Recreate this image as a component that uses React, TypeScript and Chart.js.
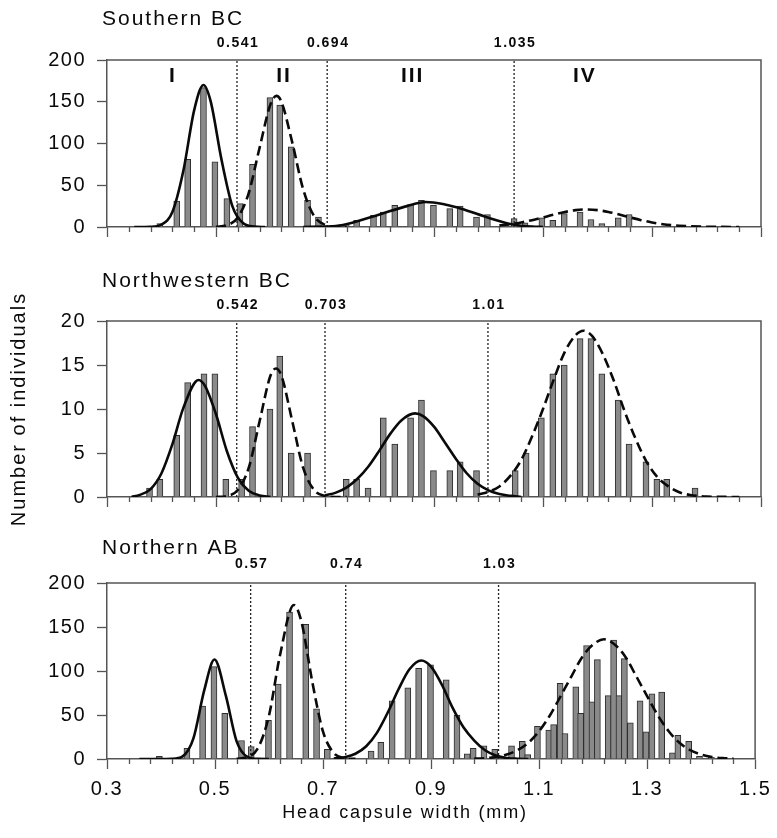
import React, { useEffect, useRef } from "react";
import { Chart, registerables } from "chart.js";

Chart.register(...registerables);

const FONT = "'Liberation Sans', Arial, Helvetica, sans-serif";
Chart.defaults.font.family = FONT;

// ---------- axis ticks ----------
const xMajorTicks = [0.3, 0.5, 0.7, 0.9, 1.1, 1.3, 1.5];
const xMinorTicks = [
  0.34, 0.38, 0.42, 0.46, 0.54, 0.58, 0.62, 0.66, 0.74, 0.78, 0.82, 0.86,
  0.94, 0.98, 1.02, 1.06, 1.14, 1.18, 1.22, 1.26, 1.34, 1.38, 1.42, 1.46,
];
const xAxisTitle = "Head capsule width (mm)";
const yAxisTitle = "Number of individuals";

// ---------- Southern BC ----------
const southTitle = "Southern BC";
const southBarX = [
  0.397, 0.428, 0.448, 0.477, 0.498, 0.52, 0.544, 0.567, 0.599, 0.617, 0.638,
  0.668, 0.688, 0.739, 0.758, 0.789, 0.807, 0.828, 0.857, 0.877, 0.899, 0.929,
  0.948, 0.978, 0.998, 1.047, 1.067, 1.098, 1.118, 1.139, 1.168, 1.188, 1.208,
  1.238, 1.258,
];
const southBarY = [
  4, 31, 81, 167, 78, 34, 28, 75, 155, 146, 96, 32, 12, 3, 8, 14, 18, 26, 27,
  32, 26, 22, 25, 12, 15, 10, 5, 11, 8, 16, 18, 9, 4, 11, 15,
];
const southC1X = [0.35, 0.38, 0.4, 0.42, 0.44, 0.46, 0.477, 0.49, 0.51, 0.53, 0.55, 0.57, 0.59];
const southC1Y = [0, 0.3, 3, 18, 67, 140, 170, 151, 81, 25, 4.4, 0.5, 0];
const southC2X = [0.5, 0.52, 0.54, 0.56, 0.58, 0.6, 0.611, 0.62, 0.64, 0.66, 0.68, 0.7, 0.72, 0.74];
const southC2Y = [0.3, 2.1, 11.4, 40.6, 95, 147, 157, 150, 101, 45, 13, 2.6, 0.3, 0];
const southC3X = [0.66, 0.7, 0.72, 0.75, 0.8, 0.85, 0.885, 0.92, 0.95, 1.0, 1.04, 1.06, 1.08, 1.1];
const southC3Y = [0, 0.5, 1, 5, 15, 25, 30, 27, 22, 11, 3.5, 1.5, 0.5, 0];
const southC4X = [1.02, 1.04, 1.06, 1.08, 1.1, 1.12, 1.14, 1.16, 1.18, 1.2, 1.22, 1.24, 1.26, 1.28, 1.3, 1.32, 1.35, 1.4, 1.46];
const southC4Y = [1.9, 3.3, 5.5, 8.2, 11.5, 15, 18, 20.2, 21, 20.2, 18, 15, 11.5, 8.2, 5.5, 3.3, 1.5, 0.3, 0];
const southCutX = [0.5385, 0.704, 1.047];
const southCutLabels = ["0.541", "0.694", "1.035"];
const stageLabels = ["I", "II", "III", "IV"];
const stageLabelX = [0.419, 0.623, 0.859, 1.175];
const stageLabelY = [181, 181, 181, 181];

// ---------- Northwestern BC ----------
const nwTitle = "Northwestern BC";
const nwBarX = [
  0.378, 0.397, 0.428, 0.448, 0.478, 0.498, 0.518, 0.547, 0.567, 0.599, 0.617,
  0.638, 0.668, 0.739, 0.758, 0.779, 0.807, 0.828, 0.857, 0.877, 0.899, 0.929,
  0.948, 0.978, 1.049, 1.069, 1.097, 1.118, 1.139, 1.168, 1.188, 1.208, 1.238,
  1.258, 1.289, 1.309, 1.327, 1.379,
];
const nwBarY = [
  1, 2, 7, 13, 14, 14, 2, 2, 8, 10, 16, 5, 5, 2, 2, 1, 9, 6, 9, 11, 3, 3, 4, 3,
  3, 5, 9, 14, 15, 18, 18, 14, 11, 6, 4, 2, 2, 1,
];
const nwC1X = [0.345, 0.36, 0.38, 0.4, 0.42, 0.44, 0.468, 0.48, 0.5, 0.52, 0.54, 0.56, 0.58, 0.6];
const nwC1Y = [0, 0.24, 0.9, 2.7, 6.0, 10.1, 13.3, 12.6, 9.4, 5.2, 2.2, 0.7, 0.17, 0];
const nwC2X = [0.5, 0.52, 0.54, 0.56, 0.58, 0.6, 0.61, 0.62, 0.64, 0.66, 0.68, 0.7, 0.72, 0.74];
const nwC2Y = [0, 0.12, 0.8, 3.3, 8.6, 13.8, 14.6, 13.8, 8.6, 3.3, 0.8, 0.12, 0, 0];
const nwC3X = [0.7, 0.72, 0.74, 0.76, 0.78, 0.8, 0.82, 0.84, 0.865, 0.88, 0.9, 0.92, 0.94, 0.96, 0.98, 1.0, 1.02, 1.04, 1.06];
const nwC3Y = [0.2, 0.5, 1.1, 2.1, 3.5, 5.3, 7.2, 8.7, 9.5, 9.2, 8.0, 6.2, 4.35, 2.7, 1.5, 0.75, 0.34, 0.13, 0];
const nwC4X = [0.98, 1.0, 1.02, 1.04, 1.06, 1.08, 1.1, 1.12, 1.14, 1.16, 1.174, 1.19, 1.21, 1.23, 1.25, 1.27, 1.29, 1.31, 1.33, 1.35, 1.37, 1.4, 1.46];
const nwC4Y = [0.25, 0.6, 1.2, 2.4, 4.2, 6.9, 10.0, 13.4, 16.5, 18.4, 18.9, 18.3, 16.2, 13.2, 9.7, 6.6, 4.0, 2.25, 1.2, 0.54, 0.23, 0.05, 0];
const nwCutX = [0.538, 0.7, 0.999];
const nwCutLabels = ["0.542", "0.703", "1.01"];

// ---------- Northern AB ----------
const nabTitle = "Northern AB";
const nabBarX = [
  0.397, 0.448, 0.477, 0.498, 0.518, 0.549, 0.567, 0.599, 0.617, 0.638, 0.668,
  0.688, 0.708, 0.789, 0.807, 0.828, 0.857, 0.877, 0.899, 0.928, 0.948, 0.967,
  0.978, 0.998, 1.018, 1.049, 1.069, 1.079, 1.097, 1.118, 1.127, 1.139, 1.148,
  1.168, 1.177, 1.188, 1.198, 1.208, 1.228, 1.238, 1.248, 1.258, 1.269, 1.287,
  1.298, 1.309, 1.327, 1.347, 1.357, 1.377, 1.397, 1.419,
];
const nabBarY = [
  3, 12, 60, 105, 52, 21, 14, 44, 85, 167, 153, 57, 11, 9, 19, 66, 81, 103, 107,
  90, 50, 6, 12, 15, 11, 15, 20, 5, 37, 33, 39, 86, 29, 82, 52, 129, 65, 113, 72,
  135, 72, 114, 41, 66, 31, 74, 76, 7, 27, 20, 3, 2,
];
const nabC1X = [0.36, 0.4, 0.42, 0.44, 0.46, 0.48, 0.499, 0.52, 0.54, 0.56, 0.58, 0.6];
const nabC1Y = [0, 0, 0.2, 3, 23.5, 78, 113, 72, 20, 2.4, 0.1, 0];
const nabC2X = [0.54, 0.56, 0.58, 0.6, 0.62, 0.646, 0.66, 0.68, 0.7, 0.72, 0.74, 0.76];
const nabC2Y = [0.2, 2.1, 13, 49.5, 117, 175, 156, 88, 31, 6.8, 0.9, 0.1];
const nabC3X = [0.72, 0.74, 0.76, 0.78, 0.8, 0.82, 0.84, 0.86, 0.882, 0.9, 0.92, 0.94, 0.96, 0.98, 1.0, 1.02, 1.04, 1.06, 1.08];
const nabC3Y = [0.5, 2.1, 6, 14.5, 30, 53, 79.5, 102, 112, 105, 84.5, 58, 36, 21, 10, 4, 1.2, 0.3, 0];
const nabC4X = [0.98, 1.0, 1.02, 1.04, 1.06, 1.08, 1.1, 1.12, 1.14, 1.16, 1.18, 1.2, 1.22, 1.24, 1.26, 1.28, 1.3, 1.32, 1.34, 1.36, 1.38, 1.4, 1.42, 1.44, 1.46];
const nabC4Y = [0.4, 1, 2.3, 5, 10, 18.4, 31.5, 49.5, 71.5, 94, 116, 130, 136, 130, 116, 94, 71.5, 49.5, 31.5, 18.4, 10, 5, 2.3, 1, 0.4];
const nabCutX = [0.566, 0.742, 1.025];
const nabCutLabels = ["0.57", "0.74", "1.03"];

// ---------- panel specs (layout/style) ----------
type Curve = { x: number[]; y: number[]; dashed: boolean };
type Panel = {
  title: string;
  yMax: number;
  yStep: number;
  barX: number[];
  barY: number[];
  curves: Curve[];
  cutX: number[];
  cutLabels: string[];
  stages?: { labels: string[]; x: number[]; y: number[] };
  showX: boolean;
  showYTitle: boolean;
  top: number;
  height: number;
  padTop: number;
  xHeight: number;
  titleOffset: number;
  cutOffset: number;
};

const panels: Panel[] = [
  {
    title: southTitle, yMax: 200, yStep: 50, barX: southBarX, barY: southBarY,
    curves: [
      { x: southC1X, y: southC1Y, dashed: false },
      { x: southC2X, y: southC2Y, dashed: true },
      { x: southC3X, y: southC3Y, dashed: false },
      { x: southC4X, y: southC4Y, dashed: true },
    ],
    cutX: southCutX, cutLabels: southCutLabels,
    stages: { labels: stageLabels, x: stageLabelX, y: stageLabelY },
    showX: false, showYTitle: false,
    top: 0, height: 250, padTop: 60, xHeight: 14, titleOffset: -41, cutOffset: -17,
  },
  {
    title: nwTitle, yMax: 20, yStep: 5, barX: nwBarX, barY: nwBarY,
    curves: [
      { x: nwC1X, y: nwC1Y, dashed: false },
      { x: nwC2X, y: nwC2Y, dashed: true },
      { x: nwC3X, y: nwC3Y, dashed: false },
      { x: nwC4X, y: nwC4Y, dashed: true },
    ],
    cutX: nwCutX, cutLabels: nwCutLabels,
    showX: false, showYTitle: true,
    top: 262, height: 275, padTop: 59, xHeight: 40, titleOffset: -40, cutOffset: -16,
  },
  {
    title: nabTitle, yMax: 200, yStep: 50, barX: nabBarX, barY: nabBarY,
    curves: [
      { x: nabC1X, y: nabC1Y, dashed: false },
      { x: nabC2X, y: nabC2Y, dashed: true },
      { x: nabC3X, y: nabC3Y, dashed: false },
      { x: nabC4X, y: nabC4Y, dashed: true },
    ],
    cutX: nabCutX, cutLabels: nabCutLabels,
    showX: true, showYTitle: false,
    top: 520, height: 318, padTop: 63, xHeight: 79, titleOffset: -35, cutOffset: -19,
  },
];

const AXIS = "#555";
const INK = "#0a0a0a";

function decorPlugin(p: Panel) {
  return {
    id: "panelDecor",
    beforeDraw(chart: any) {
      chart.ctx.letterSpacing = "1.5px";
    },
    afterDraw(chart: any) {
      const ctx = chart.ctx;
      const a = chart.chartArea;
      const xs = chart.scales.x;
      const ys = chart.scales.y;
      ctx.save();
      // frame top + right
      ctx.strokeStyle = AXIS;
      ctx.lineWidth = 1.5;
      ctx.setLineDash([]);
      ctx.beginPath();
      ctx.moveTo(a.left, a.top);
      ctx.lineTo(a.right, a.top);
      ctx.lineTo(a.right, a.bottom);
      ctx.stroke();
      // minor ticks
      ctx.lineWidth = 1.3;
      ctx.beginPath();
      for (const v of xMinorTicks) {
        const px = Math.round(xs.getPixelForValue(v)) + 0.5;
        ctx.moveTo(px, a.bottom);
        ctx.lineTo(px, a.bottom + 5);
      }
      ctx.stroke();

      ctx.fillStyle = INK;
      ctx.textBaseline = "middle";
      // panel title
      ctx.letterSpacing = "2px";
      ctx.font = `21px ${FONT}`;
      ctx.textAlign = "left";
      ctx.fillText(p.title, 102, a.top + p.titleOffset);
      // cut labels
      ctx.letterSpacing = "1.5px";
      ctx.font = `bold 14px ${FONT}`;
      ctx.textAlign = "center";
      p.cutX.forEach((c, i) => {
        ctx.fillText(p.cutLabels[i], xs.getPixelForValue(c) + 1, a.top + p.cutOffset);
      });
      // stage labels
      if (p.stages) {
        ctx.letterSpacing = "2px";
        ctx.font = `bold 21px ${FONT}`;
        p.stages.labels.forEach((t, i) => {
          ctx.fillText(t, xs.getPixelForValue(p.stages!.x[i]) + 1, ys.getPixelForValue(p.stages!.y[i]));
        });
      }
      // axis titles
      if (p.showX) {
        ctx.letterSpacing = "1.8px";
        ctx.font = `18px ${FONT}`;
        ctx.textAlign = "center";
        ctx.fillText(xAxisTitle, 405, a.bottom + 54);
      }
      if (p.showYTitle) {
        ctx.save();
        ctx.translate(19, (a.top + a.bottom) / 2);
        ctx.rotate(-Math.PI / 2);
        ctx.letterSpacing = "2px";
        ctx.font = `20px ${FONT}`;
        ctx.textAlign = "center";
        ctx.fillText(yAxisTitle, 0, 0);
        ctx.restore();
      }
      ctx.restore();
    },
  };
}

function makeChart(canvas: HTMLCanvasElement, p: Panel) {
  const datasets: any[] = [];
  datasets.push({
    type: "bar",
    data: p.barX.map((x, i) => ({ x, y: p.barY[i] })),
    backgroundColor: "#8a8a8a",
    borderColor: "#2e2e2e",
    borderWidth: 1,
    barThickness: 6,
    order: 3,
  });
  p.curves.forEach((c) =>
    datasets.push({
      type: "line",
      data: c.x.map((x, i) => ({ x, y: c.y[i] })),
      borderColor: INK,
      borderWidth: 2.6,
      borderDash: c.dashed ? [10, 5] : [],
      pointRadius: 0,
      fill: false,
      cubicInterpolationMode: "monotone",
      order: 1,
    })
  );
  p.cutX.forEach((c) =>
    datasets.push({
      type: "line",
      data: [
        { x: c, y: 0 },
        { x: c, y: p.yMax },
      ],
      borderColor: "#222",
      borderWidth: 1.3,
      borderDash: [2, 2],
      pointRadius: 0,
      fill: false,
      order: 2,
    })
  );

  return new Chart(canvas, {
    type: "bar",
    data: { datasets },
    options: {
      animation: false,
      responsive: false,
      devicePixelRatio: 1,
      layout: { padding: { top: p.padTop, right: 16, left: 0, bottom: 0 } },
      plugins: { legend: { display: false }, tooltip: { enabled: false }, title: { display: false } },
      scales: {
        x: {
          type: "linear",
          min: 0.3,
          max: 1.5,
          offset: false,
          afterBuildTicks: (s: any) => {
            s.ticks = xMajorTicks.map((v) => ({ value: v }));
          },
          afterFit: (s: any) => {
            s.height = p.xHeight;
          },
          grid: {
            display: true,
            drawOnChartArea: false,
            drawTicks: true,
            tickLength: 10,
            tickColor: AXIS,
            tickWidth: 1.3,
            offset: false,
          },
          border: { display: true, color: AXIS, width: 1.5 },
          ticks: {
            display: p.showX,
            padding: 8,
            font: { size: 20, family: FONT },
            color: INK,
            maxRotation: 0,
            autoSkip: false,
            callback: (v: any) => Number(v).toFixed(1),
          },
        },
        y: {
          type: "linear",
          min: 0,
          max: p.yMax,
          afterFit: (s: any) => {
            s.width = 107;
          },
          grid: {
            display: true,
            drawOnChartArea: false,
            drawTicks: true,
            tickLength: 10,
            tickColor: AXIS,
            tickWidth: 1.3,
          },
          border: { display: true, color: AXIS, width: 1.5 },
          ticks: {
            stepSize: p.yStep,
            padding: 11,
            font: { size: 20, family: FONT },
            color: INK,
          },
        },
      },
    } as any,
    plugins: [decorPlugin(p)],
  } as any);
}

export default function App() {
  const r0 = useRef<HTMLCanvasElement>(null);
  const r1 = useRef<HTMLCanvasElement>(null);
  const r2 = useRef<HTMLCanvasElement>(null);
  const refs = [r0, r1, r2];

  useEffect(() => {
    const charts = panels.map((p, i) => makeChart(refs[i].current!, p));
    return () => charts.forEach((c) => c.destroy());
  }, []);

  return (
    <div style={{ position: "absolute", left: 0, top: 0, width: 777, height: 838, background: "#fff" }}>
      {panels.map((p, i) => (
        <canvas
          key={i}
          ref={refs[i]}
          width={777}
          height={p.height}
          style={{ position: "absolute", left: 0, top: p.top, width: 777, height: p.height }}
        />
      ))}
    </div>
  );
}
